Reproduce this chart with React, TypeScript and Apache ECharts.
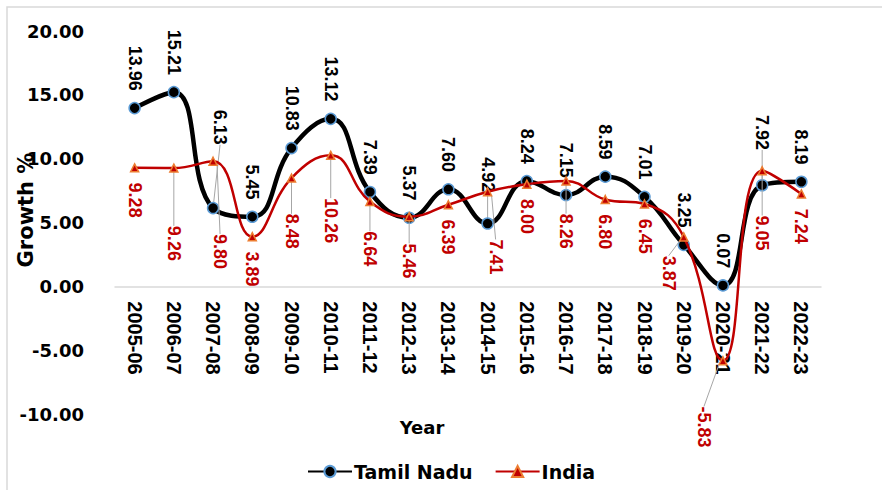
import React, { useEffect, useRef } from "react";
import * as echarts from "echarts";

const categories = [
  "2005-06", "2006-07", "2007-08", "2008-09", "2009-10", "2010-11",
  "2011-12", "2012-13", "2013-14", "2014-15", "2015-16", "2016-17",
  "2017-18", "2018-19", "2019-20", "2020-21", "2021-22", "2022-23",
];
const tamilNadu = [13.96, 15.21, 6.13, 5.45, 10.83, 13.12, 7.39, 5.37, 7.6, 4.92, 8.24, 7.15, 8.59, 7.01, 3.25, 0.07, 7.92, 8.19];
const india = [9.28, 9.26, 9.8, 3.89, 8.48, 10.26, 6.64, 5.46, 6.39, 7.41, 8.0, 8.26, 6.8, 6.45, 3.87, -5.83, 9.05, 7.24];

const yMin = -10;
const yMax = 20;
const yStep = 5;

// manual label nudges in screen pixels [right, down] (as in the original spreadsheet chart)
const tnShift: Record<number, [number, number]> = { 2: [7, -46], 9: [0, -14], 16: [0, -18] };
const inShift: Record<number, [number, number]> = {
  1: [0, 43], 2: [7, 58], 4: [0, 21], 5: [0, 28], 6: [0, 15], 7: [0, 12],
  9: [8, 33], 11: [0, 18], 14: [-15, 4], 15: [-19, 31], 16: [0, 30],
};

const BOLD_SANS = "DejaVu Sans";
const LABEL_FONT = "Liberation Sans";

const GRID_TOP = 31;
const GRID_BOTTOM = 76;
const CHART_H = 490;

export default function App() {
  const ref = useRef<HTMLDivElement>(null);
  useEffect(() => {
    if (!ref.current) return;
    const chart = echarts.init(ref.current, undefined, { renderer: "svg" });
    const mk = (vals: number[], shift: Record<number, [number, number]>) =>
      vals.map((v, i) => ({ value: v, labelLine: { show: !!shift[i] } }));
    // labels are rotated -90deg, so dx/dy act in the rotated frame
    const layout = (shift: Record<number, [number, number]>) => (p: any) => {
      const s = shift[p.dataIndex];
      return s ? { dx: s[1], dy: -s[0] } : {};
    };
    const gridH = CHART_H - GRID_TOP - GRID_BOTTOM;
    const zeroOffset = -(gridH * (0 - yMin)) / (yMax - yMin);
    chart.setOption({
      animation: false,
      backgroundColor: "#ffffff",
      grid: { left: 115, right: 61, top: GRID_TOP, bottom: GRID_BOTTOM, outerBoundsMode: "none", containLabel: false },
      legend: {
        data: ["Tamil Nadu", "India"],
        left: 302,
        top: 457,
        itemWidth: 44,
        itemHeight: 14,
        itemGap: 22,
        textStyle: { fontFamily: BOLD_SANS, fontWeight: "bold", fontSize: 19, color: "#000", padding: [0, 0, 0, -3] },
      },
      xAxis: {
        type: "category",
        data: categories,
        boundaryGap: true,
        offset: zeroOffset,
        axisLine: { onZero: false, lineStyle: { color: "#d9d9d9", width: 1.5 } },
        axisTick: { show: false },
        axisLabel: {
          interval: 0,
          rotate: -90,
          margin: 15,
          fontFamily: LABEL_FONT,
          fontWeight: "bold",
          fontSize: 20,
          color: "#000",
        },
        splitLine: { show: false },
      },
      yAxis: {
        type: "value",
        min: yMin,
        max: yMax,
        interval: yStep,
        axisLine: { show: false },
        axisTick: { show: false },
        splitLine: { show: false },
        axisLabel: {
          margin: 31,
          fontFamily: BOLD_SANS,
          fontWeight: "bold",
          fontSize: 18,
          color: "#000",
          formatter: (v: number) => v.toFixed(2),
        },
      },
      graphic: [
        {
          type: "rect",
          shape: { x: 7, y: 7, width: 900, height: 520 },
          style: { fill: "none", stroke: "#d9d9d9", lineWidth: 1.5 },
          silent: true,
          z: -10,
        },
        {
          type: "text",
          x: 422,
          y: 427,
          style: {
            text: "Year",
            fill: "#000",
            font: `bold 18px '${BOLD_SANS}'`,
            align: "center",
            verticalAlign: "middle",
          },
        },
        {
          type: "text",
          x: 26,
          y: 210,
          rotation: Math.PI / 2,
          style: {
            text: "Growth %",
            fill: "#000",
            font: `bold 21px '${BOLD_SANS}'`,
            align: "center",
            verticalAlign: "middle",
          },
        },
      ],
      series: [
        {
          name: "Tamil Nadu",
          type: "line",
          data: mk(tamilNadu, tnShift),
          smooth: 0.45,
          symbol: "circle",
          symbolSize: 11,
          lineStyle: { color: "#000", width: 4.5 },
          itemStyle: { color: "#000", borderColor: "#5B9BD5", borderWidth: 1.5 },
          label: {
            show: true,
            position: "top",
            distance: 11,
            rotate: -90,
            align: "right",
            verticalAlign: "middle",
            fontFamily: LABEL_FONT,
            fontWeight: "bold",
            fontSize: 18,
            color: "#000",
            formatter: (p: any) => Number(p.value).toFixed(2),
          },
          labelLine: { show: false, lineStyle: { color: "#a6a6a6", width: 1 } },
          labelLayout: layout(tnShift),
          z: 2,
        },
        {
          name: "India",
          type: "line",
          data: mk(india, inShift),
          smooth: 0.45,
          symbol: "triangle",
          symbolSize: 8,
          lineStyle: { color: "#C00000", width: 2.5 },
          itemStyle: { color: "#C00000", borderColor: "#ED7D31", borderWidth: 1.5 },
          label: {
            show: true,
            position: "bottom",
            distance: 10,
            rotate: -90,
            align: "left",
            verticalAlign: "middle",
            fontFamily: LABEL_FONT,
            fontWeight: "bold",
            fontSize: 18,
            color: "#C00000",
            formatter: (p: any) => Number(p.value).toFixed(2),
          },
          labelLine: { show: false, lineStyle: { color: "#a6a6a6", width: 1 } },
          labelLayout: layout(inShift),
          z: 3,
        },
      ],
    });
    return () => chart.dispose();
  }, []);
  return (
    <div
      ref={ref}
      style={{ position: "absolute", left: 0, top: 0, width: 882, height: 490, background: "#fff" }}
    />
  );
}
